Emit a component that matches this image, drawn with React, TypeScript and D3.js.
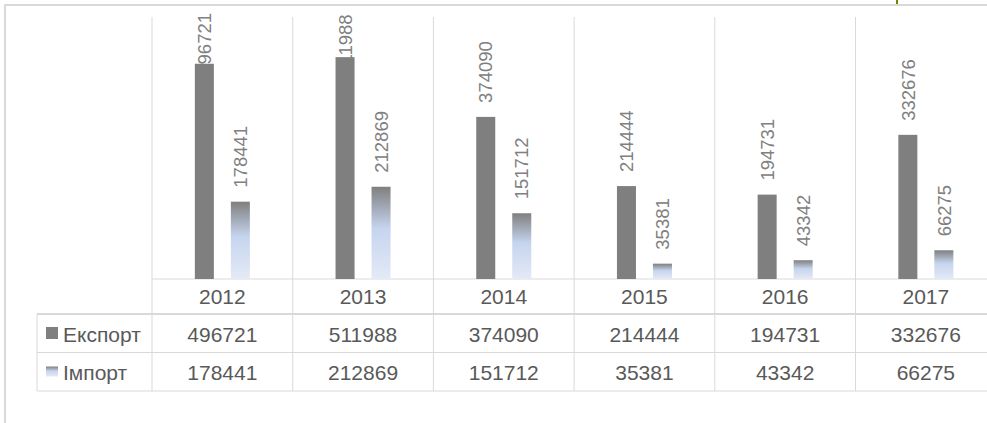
import React from 'react';
import * as d3 from 'd3';

const years = ['2012', '2013', '2014', '2015', '2016', '2017'];
const exportValues = [496721, 511988, 374090, 214444, 194731, 332676];
const importValues = [178441, 212869, 151712, 35381, 43342, 66275];
const seriesNames = ['Експорт', 'Імпорт'];

const W = 987;
const H = 423;

const App = () => {
  const svgRef = React.useRef<SVGSVGElement>(null);

  React.useEffect(() => {
    const svg = d3.select(svgRef.current);
    svg.selectAll('*').remove();

    const font = 'Liberation Sans, Arial, sans-serif';
    const grid = '#d9d9d9';
    const textCol = '#595959';

    const baseY = 279;
    const plotTop = 17;
    const tableLeft = 37;
    const rowTop = 314;
    const rowH = 38.5;

    const x = d3.scaleBand().domain(years).range([152, 152 + 140.7 * years.length]).padding(0);
    const sub = d3.scaleBand().domain(['export', 'import']).range([0, x.bandwidth()])
      .paddingInner(0.472).paddingOuter(1.19);
    const y = d3.scaleLinear().domain([0, 600000]).range([baseY, 19]);

    const defs = svg.append('defs');
    const grad = defs.append('linearGradient').attr('id', 'impGrad')
      .attr('x1', 0).attr('y1', 0).attr('x2', 0).attr('y2', 1);
    grad.append('stop').attr('offset', '0%').attr('stop-color', '#7f7f7f');
    grad.append('stop').attr('offset', '45%').attr('stop-color', '#c5d4ee');
    grad.append('stop').attr('offset', '100%').attr('stop-color', '#e4eaf6');

    // outer frame
    svg.append('line').attr('x1', 4).attr('x2', W).attr('y1', 5).attr('y2', 5)
      .attr('stroke', grid).attr('stroke-width', 2);
    svg.append('line').attr('x1', 5).attr('x2', 5).attr('y1', 4).attr('y2', H)
      .attr('stroke', grid).attr('stroke-width', 2);
    svg.append('line').attr('x1', 897).attr('x2', 897).attr('y1', 0).attr('y2', 4)
      .attr('stroke', '#6b8a00').attr('stroke-width', 2);

    // column separators
    const edges = years.map(d => x(d)!).concat([x.range()[1]]);
    svg.selectAll('.vline').data(edges).join('line')
      .attr('x1', d => d).attr('x2', d => d)
      .attr('y1', plotTop).attr('y2', rowTop + rowH * 2)
      .attr('stroke', grid).attr('stroke-width', 1);
    svg.append('line').attr('x1', 152).attr('x2', W).attr('y1', baseY).attr('y2', baseY)
      .attr('stroke', grid);
    [rowTop, rowTop + rowH, rowTop + rowH * 2].forEach((ry, i) => {
      svg.append('line').attr('x1', tableLeft).attr('x2', W).attr('y1', ry).attr('y2', ry)
        .attr('stroke', grid).attr('stroke-width', i === 0 ? 2 : 1);
    });
    svg.append('line').attr('x1', tableLeft).attr('x2', tableLeft)
      .attr('y1', rowTop).attr('y2', rowTop + rowH * 2).attr('stroke', grid);

    // rotated value labels (drawn under the bars; top kept inside the plot)
    const fs = 18.5;
    const labels = svg.append('g');
    const addLabels = (vals: number[], key: string) => {
      labels.selectAll('.lbl-' + key).data(vals).join('text')
        .attr('transform', (d, i) => {
          const cx = x(years[i])! + sub(key)! + sub.bandwidth() / 2 + fs * 0.36;
          const len = String(d).length * fs * 0.556;
          let by = y(d) - 14;
          if (by - len < 13) by = 13 + len;
          return `translate(${cx},${by}) rotate(-90)`;
        })
        .attr('font-family', font).attr('font-size', fs)
        .attr('fill', '#808080').text(d => String(d));
    };
    addLabels(exportValues, 'export');
    addLabels(importValues, 'import');

    // bars
    svg.selectAll('.exp').data(exportValues).join('rect')
      .attr('x', (d, i) => x(years[i])! + sub('export')!)
      .attr('y', d => y(d)).attr('width', sub.bandwidth())
      .attr('height', d => baseY - y(d)).attr('fill', '#7f7f7f');
    svg.selectAll('.imp').data(importValues).join('rect')
      .attr('x', (d, i) => x(years[i])! + sub('import')!)
      .attr('y', d => y(d)).attr('width', sub.bandwidth())
      .attr('height', d => baseY - y(d)).attr('fill', 'url(#impGrad)');

    // year row
    svg.selectAll('.yr').data(years).join('text')
      .attr('x', d => x(d)! + x.bandwidth() / 2).attr('y', 304)
      .attr('text-anchor', 'middle').attr('font-family', font).attr('font-size', 21)
      .attr('fill', textCol).text(d => d);

    // table rows
    [exportValues, importValues].forEach((vals, r) => {
      const by = rowTop + rowH * r + 27.5;
      svg.selectAll('.row' + r).data(vals).join('text')
        .attr('x', (d, i) => x(years[i])! + x.bandwidth() / 2).attr('y', by)
        .attr('text-anchor', 'middle').attr('font-family', font).attr('font-size', 21)
        .attr('fill', textCol).text(d => String(d));
      svg.append('rect').attr('x', 46).attr('y', r === 0 ? 327 : 366.5)
        .attr('width', 12).attr('height', r === 0 ? 12 : 10)
        .attr('fill', r === 0 ? '#7f7f7f' : 'url(#impGrad)');
      svg.append('text').attr('x', 63).attr('y', by).attr('font-family', font)
        .attr('font-size', 21).attr('fill', textCol).text(seriesNames[r]);
    });
  }, []);

  return (
    <div style={{ position: 'fixed', left: 0, top: 0, width: W, height: H, background: '#fff' }}>
      <svg ref={svgRef} width={W} height={H} style={{ display: 'block' }} />
    </div>
  );
};

export default App;
